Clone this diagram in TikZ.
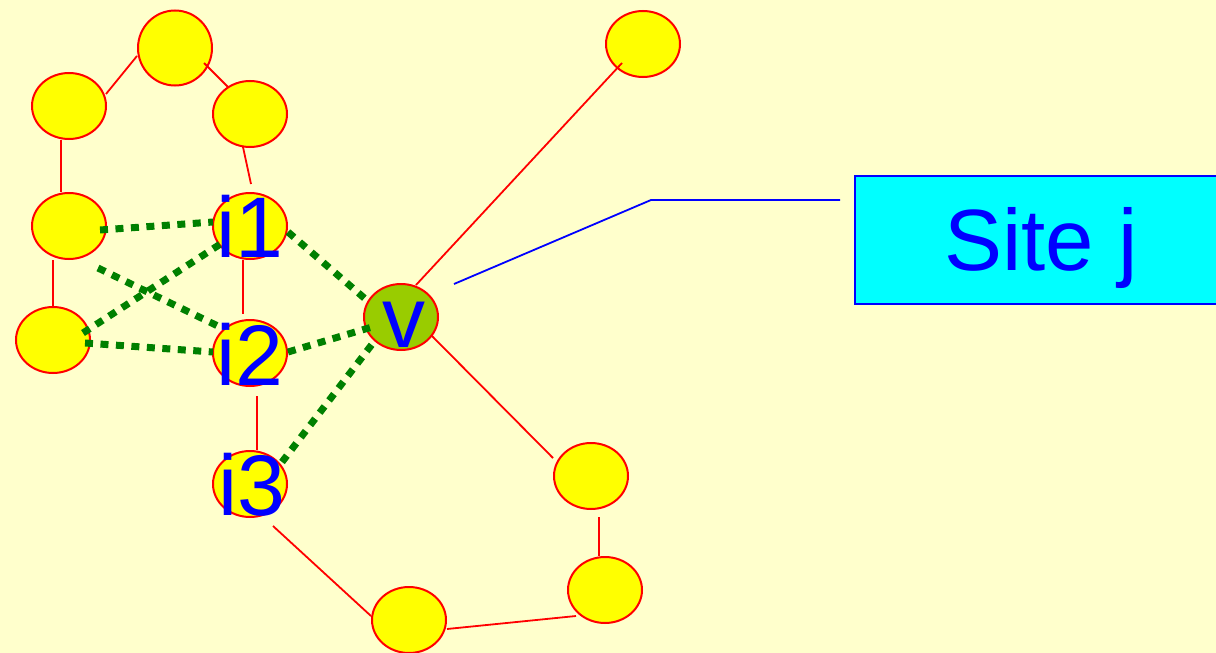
\documentclass[tikz,border=0pt]{standalone}
\usepackage{fontspec}
\setmainfont{Liberation Sans}
\usetikzlibrary{shapes.geometric}
\definecolor{paper}{HTML}{FFFFCC}
\definecolor{peer}{HTML}{FFFF00}
\definecolor{peerred}{HTML}{FF0000}
\definecolor{hub}{HTML}{99CC00}
\definecolor{linkgreen}{HTML}{008000}
\definecolor{labelblue}{HTML}{0000FF}
\definecolor{boxcyan}{HTML}{00FFFF}
\begin{document}
\begin{tikzpicture}[x=1pt,y=-1pt,
  peernode/.style={ellipse,draw=peerred,line width=2pt,fill=peer,
    minimum width=74pt,minimum height=66pt,inner sep=0pt,outer sep=0pt},
  hubnode/.style={peernode,fill=hub},
  redlink/.style={draw=peerred,line width=1.8pt},
  greenlink/.style={draw=linkgreen,line width=7pt,dash pattern=on 8pt off 7.5pt},
  lab/.style={text=labelblue,font=\fontsize{86pt}{86pt}\selectfont,inner sep=0pt,anchor=base},
  sitebox/.style={rectangle,draw=labelblue,line width=2pt,fill=boxcyan,
    minimum width=372pt,minimum height=128pt,inner sep=0pt,outer sep=0pt,
    text=labelblue,font=\fontsize{87pt}{87pt}\selectfont,text height=60pt,text depth=0pt},
  pointer/.style={draw=labelblue,line width=1.8pt}]
\useasboundingbox (0,0) rectangle (1216,653);
\fill[paper] (0,0) rectangle (1216,653);

% peers
\node[peernode,minimum height=75pt] (A) at (175,48) {};
\node[peernode] (B) at (69,106) {};
\node[peernode] (C) at (250,114) {};
\node[peernode] (D) at (69,226) {};
\node[peernode] (i1) at (250,226) {};
\node[peernode] (E) at (53,340) {};
\node[peernode] (i2) at (250,353) {};
\node[hubnode] (v) at (401,317) {};
\node[peernode] (i3) at (250,484) {};
\node[peernode] (F) at (643,44) {};
\node[peernode] (G) at (591,476) {};
\node[peernode] (H) at (605,590) {};
\node[peernode] (I) at (409,620) {};

% overlay links
\path[redlink] ([shift={(37,-12)}]B.center) -- ([shift={(-38,8)}]A.center);
\path[redlink] ([shift={(29,15)}]A.center) -- ([shift={(-22,-27)}]C.center);
\path[redlink] ([shift={(-7,33)}]C.center) -- ([shift={(1,-42)}]i1.center);
\path[redlink] ([shift={(-8,34)}]B.center) -- ([shift={(-8,-34)}]D.center);
\path[redlink] ([shift={(-16,34)}]D.center) -- ([shift={(0,-34)}]E.center);
\path[redlink] ([shift={(-7,34)}]i1.center) -- ([shift={(-7,-39)}]i2.center);
\path[redlink] ([shift={(7,43)}]i2.center) -- ([shift={(7,-34)}]i3.center);
\path[redlink] ([shift={(23,42)}]i3.center) -- ([shift={(-38,-4)}]I.center);
\path[redlink] ([shift={(38,9)}]I.center) -- ([shift={(-29,26)}]H.center);
\path[redlink] ([shift={(8,41)}]G.center) -- ([shift={(-6,-34)}]H.center);
\path[redlink] ([shift={(30,18)}]v.center) -- ([shift={(-38,-18)}]G.center);
\path[redlink] ([shift={(15,-32)}]v.center) -- ([shift={(-21,19)}]F.center);

% shortcut links
\path[greenlink] ([shift={(31,4)}]D.center) -- ([shift={(-37,-4)}]i1.center);
\path[greenlink] ([shift={(29,42)}]D.center) -- ([shift={(-28,-25)}]i2.center);
\path[greenlink] ([shift={(30,-7)}]E.center) -- ([shift={(-28,17)}]i1.center);
\path[greenlink] ([shift={(32,3)}]E.center) -- ([shift={(-37,-1)}]i2.center);
\path[greenlink] ([shift={(38,6)}]i1.center) -- ([shift={(-31,-14)}]v.center);
\path[greenlink] ([shift={(38,-1)}]i2.center) -- ([shift={(-29,10)}]v.center);
\path[greenlink] ([shift={(32,-22)}]i3.center) -- ([shift={(-28,26)}]v.center);

% labels
\node[lab] (i1t) at (250,257) {i1};
\node[lab] (i2t) at (250,385) {i2};
\node[lab] (i3t) at (252,515) {i3};
\node[lab] (vt) at (404,347) {v};

% site callout
\node[sitebox] (site) at (1041,240) {Site j};
\coordinate (bend) at (651,200);
\path[pointer] ([shift={(53,-33)}]v.center) -- (bend) -- ([shift={(-15,-40)}]site.west);
\end{tikzpicture}
\end{document}
